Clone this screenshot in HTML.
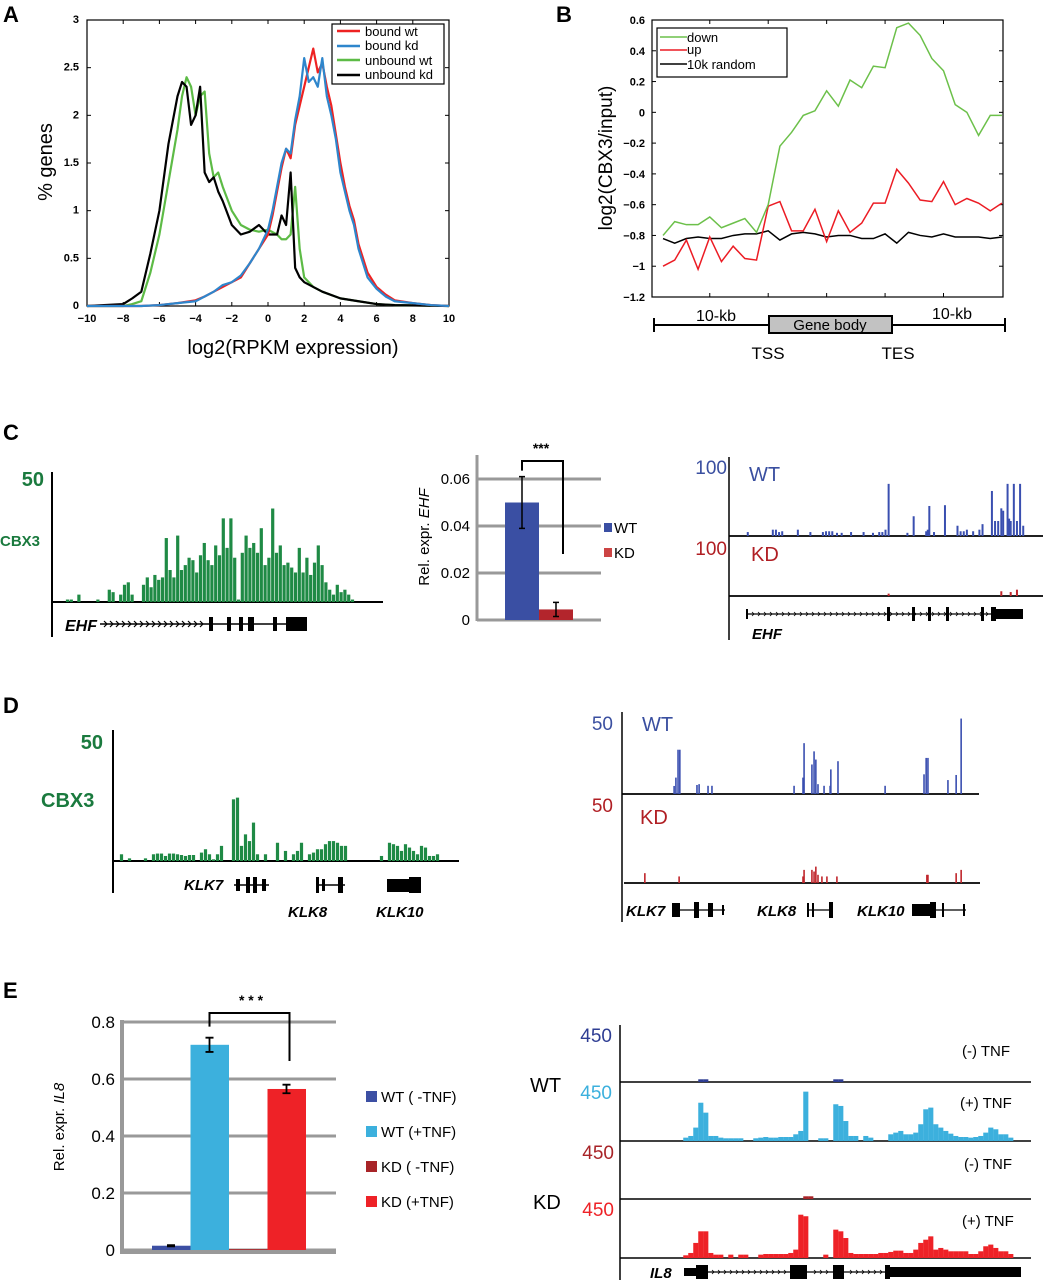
<!DOCTYPE html>
<html><head><meta charset="utf-8"><style>
html,body{margin:0;padding:0;background:#fff;}
svg{display:block;font-family:"Liberation Sans",Arial,sans-serif;}
.b{font-weight:bold}
</style></head><body>
<svg id="fig" width="1045" height="1280" viewBox="0 0 1045 1280">
<rect x="0" y="0" width="1045" height="1280" fill="#fff"/>

<!-- Panel A -->
<g id="pA">
<text x="3" y="22" font-size="22" class="b">A</text>
<rect x="87" y="20" width="362" height="286" fill="none" stroke="#000" stroke-width="1.2"/>
<text x="293" y="354" font-size="20" text-anchor="middle">log2(RPKM expression)</text>
<text transform="translate(52,162) rotate(-90)" font-size="20" text-anchor="middle">% genes</text>
<rect x="332" y="24" width="112" height="60" fill="#fff" stroke="#000" stroke-width="1.2"/>
<line x1="337" y1="31" x2="360" y2="31" stroke="#ee2222" stroke-width="2.5"/>
<text x="365" y="36" font-size="13">bound wt</text>
<line x1="337" y1="46" x2="360" y2="46" stroke="#2e86cc" stroke-width="2.5"/>
<text x="365" y="50" font-size="13">bound kd</text>
<line x1="337" y1="60" x2="360" y2="60" stroke="#5dbb46" stroke-width="2.5"/>
<text x="365" y="65" font-size="13">unbound wt</text>
<line x1="337" y1="75" x2="360" y2="75" stroke="#000" stroke-width="2.5"/>
<text x="365" y="79" font-size="13">unbound kd</text>
</g>

<!-- Panel B -->
<g id="pB">
<text x="556" y="22" font-size="22" class="b">B</text>
<rect x="652" y="20" width="351" height="277" fill="none" stroke="#000" stroke-width="1.2"/>
<text transform="translate(612,158) rotate(-90)" font-size="19" text-anchor="middle">log2(CBX3/input)</text>
<rect x="657" y="28" width="130" height="49" fill="#fff" stroke="#000" stroke-width="1.2"/>
<line x1="660" y1="37" x2="687" y2="37" stroke="#6cc04a" stroke-width="1.5"/>
<text x="687" y="42" font-size="13">down</text>
<line x1="660" y1="50" x2="687" y2="50" stroke="#ec1c24" stroke-width="1.5"/>
<text x="687" y="54" font-size="13">up</text>
<line x1="660" y1="64" x2="687" y2="64" stroke="#000" stroke-width="1.5"/>
<text x="687" y="69" font-size="13">10k random</text>
<line x1="654" y1="325" x2="1005" y2="325" stroke="#000" stroke-width="2"/>
<line x1="654" y1="318" x2="654" y2="332" stroke="#000" stroke-width="2"/>
<line x1="1005" y1="318" x2="1005" y2="332" stroke="#000" stroke-width="2"/>
<rect x="769" y="316" width="123" height="17" fill="#c2c2c2" stroke="#000" stroke-width="2"/>
<text x="830" y="330" font-size="15" text-anchor="middle">Gene body</text>
<text x="716" y="321" font-size="16" text-anchor="middle">10-kb</text>
<text x="952" y="319" font-size="16" text-anchor="middle">10-kb</text>
<text x="768" y="359" font-size="17" text-anchor="middle">TSS</text>
<text x="898" y="359" font-size="17" text-anchor="middle">TES</text>
</g>

<!-- Panel C -->
<g id="pC">
<text x="3" y="440" font-size="22" class="b">C</text>
<text x="44" y="486" font-size="20" class="b" fill="#1a7a3e" text-anchor="end">50</text>
<text x="0" y="546" font-size="15" class="b" fill="#1a7a3e">CBX3</text>
<line x1="52" y1="472" x2="52" y2="637" stroke="#000" stroke-width="2"/>
<line x1="52" y1="602" x2="383" y2="602" stroke="#000" stroke-width="2"/>
<g id="cGene">
<text x="65" y="631" font-size="16" class="b" font-style="italic">EHF</text>
<line x1="100" y1="624" x2="300" y2="624" stroke="#000" stroke-width="1.5"/>
<rect x="209" y="617" width="4" height="14" fill="#000"/>
<rect x="227" y="617" width="4" height="14" fill="#000"/>
<rect x="239" y="617" width="4" height="14" fill="#000"/>
<rect x="248" y="617" width="6" height="14" fill="#000"/>
<rect x="273" y="617" width="4" height="14" fill="#000"/>
<rect x="286" y="617" width="21" height="14" fill="#000"/>
</g>
<line x1="477" y1="455" x2="477" y2="621" stroke="#999" stroke-width="3"/>
<text transform="translate(429,537) rotate(-90)" font-size="15" text-anchor="middle">Rel. expr. <tspan font-style="italic">EHF</tspan></text>
<text x="541" y="453" font-size="14" class="b" text-anchor="middle">***</text>
<rect x="604" y="523" width="8" height="9" fill="#3a4fa3"/>
<text x="614" y="533" font-size="15">WT</text>
<rect x="604" y="548" width="8" height="9" fill="#cc4444"/>
<text x="614" y="558" font-size="15">KD</text>

<text x="727" y="474" font-size="19" fill="#3a4fa0" text-anchor="end">100</text>
<text x="749" y="481" font-size="20" fill="#3a4fa0">WT</text>
<text x="727" y="555" font-size="19" fill="#b01e23" text-anchor="end">100</text>
<text x="751" y="561" font-size="20" fill="#b01e23">KD</text>
<line x1="729" y1="457" x2="729" y2="640" stroke="#000" stroke-width="1.5"/>
<line x1="729" y1="536" x2="1043" y2="536" stroke="#000" stroke-width="1.8"/>
<line x1="729" y1="596" x2="1043" y2="596" stroke="#000" stroke-width="1.8"/>
<g>
<line x1="747" y1="614" x2="1023" y2="614" stroke="#000" stroke-width="1.2"/>
<rect x="746" y="609" width="2" height="10" fill="#000"/>
<rect x="887" y="607" width="3" height="14" fill="#000"/>
<rect x="912" y="607" width="3" height="14" fill="#000"/>
<rect x="928" y="607" width="3" height="14" fill="#000"/>
<rect x="946" y="607" width="3" height="14" fill="#000"/>
<rect x="981" y="607" width="3" height="14" fill="#000"/>
<rect x="991" y="607" width="5" height="14" fill="#000"/>
<rect x="996" y="609" width="27" height="10" fill="#000"/>
<text x="752" y="639" font-size="15" class="b" font-style="italic">EHF</text>
</g>
</g>

<!-- Panel D -->
<g id="pD">
<text x="3" y="713" font-size="22" class="b">D</text>
<text x="103" y="749" font-size="20" class="b" fill="#1a7a3e" text-anchor="end">50</text>
<text x="41" y="807" font-size="20" class="b" fill="#1a7a3e">CBX3</text>
<line x1="113" y1="730" x2="113" y2="893" stroke="#000" stroke-width="2"/>
<line x1="113" y1="861" x2="459" y2="861" stroke="#000" stroke-width="2"/>
<g>
<text x="184" y="890" font-size="15" class="b" font-style="italic">KLK7</text>
<line x1="234" y1="885" x2="269" y2="885" stroke="#000" stroke-width="1.5"/>
<rect x="236" y="879" width="4" height="12" fill="#000"/>
<rect x="246" y="877" width="4" height="16" fill="#000"/>
<rect x="253" y="877" width="4" height="16" fill="#000"/>
<rect x="262" y="879" width="4" height="12" fill="#000"/>
<text x="288" y="917" font-size="15" class="b" font-style="italic">KLK8</text>
<line x1="316" y1="885" x2="345" y2="885" stroke="#000" stroke-width="1.5"/>
<rect x="316" y="877" width="3" height="16" fill="#000"/>
<rect x="322" y="879" width="3" height="12" fill="#000"/>
<rect x="338" y="877" width="5" height="16" fill="#000"/>
<text x="376" y="917" font-size="15" class="b" font-style="italic">KLK10</text>
<rect x="387" y="879" width="22" height="13" fill="#000"/>
<rect x="409" y="877" width="12" height="16" fill="#000"/>
</g>
<text x="613" y="730" font-size="19" fill="#3a4fa0" text-anchor="end">50</text>
<text x="642" y="731" font-size="20" fill="#3a4fa0">WT</text>
<text x="613" y="812" font-size="19" fill="#b01e23" text-anchor="end">50</text>
<text x="640" y="824" font-size="20" fill="#b01e23">KD</text>
<line x1="622" y1="712" x2="622" y2="922" stroke="#000" stroke-width="1.5"/>
<line x1="622" y1="794" x2="979" y2="794" stroke="#000" stroke-width="1.8"/>
<line x1="624" y1="883" x2="980" y2="883" stroke="#000" stroke-width="1.8"/>
<g>
<text x="626" y="916" font-size="15" class="b" font-style="italic">KLK7</text>
<line x1="672" y1="910" x2="725" y2="910" stroke="#000" stroke-width="1.2"/>
<rect x="672" y="903" width="8" height="14" fill="#000"/>
<rect x="694" y="902" width="5" height="16" fill="#000"/>
<rect x="708" y="903" width="5" height="14" fill="#000"/>
<rect x="722" y="905" width="2" height="10" fill="#000"/>
<text x="757" y="916" font-size="15" class="b" font-style="italic">KLK8</text>
<line x1="807" y1="910" x2="833" y2="910" stroke="#000" stroke-width="1.2"/>
<rect x="807" y="903" width="2" height="14" fill="#000"/>
<rect x="812" y="903" width="2" height="14" fill="#000"/>
<rect x="829" y="902" width="4" height="16" fill="#000"/>
<text x="857" y="916" font-size="15" class="b" font-style="italic">KLK10</text>
<line x1="912" y1="910" x2="966" y2="910" stroke="#000" stroke-width="1.2"/>
<rect x="912" y="904" width="18" height="12" fill="#000"/>
<rect x="930" y="902" width="6" height="16" fill="#000"/>
<rect x="942" y="903" width="2" height="14" fill="#000"/>
<rect x="963" y="904" width="2" height="12" fill="#000"/>
</g>
</g>

<!-- Panel E -->
<g id="pE">
<text x="3" y="998" font-size="22" class="b">E</text>
<text transform="translate(64,1127) rotate(-90)" font-size="15" text-anchor="middle">Rel. expr. <tspan font-style="italic">IL8</tspan></text>
<text x="251" y="1005" font-size="14" class="b" text-anchor="middle">* * *</text>
<g>
<rect x="366" y="1091" width="11" height="11" fill="#3c4fa3"/>
<text x="381" y="1102" font-size="15">WT ( -TNF)</text>
<rect x="366" y="1126" width="11" height="11" fill="#3cb0dd"/>
<text x="381" y="1137" font-size="15">WT (+TNF)</text>
<rect x="366" y="1161" width="11" height="11" fill="#a82428"/>
<text x="381" y="1172" font-size="15">KD ( -TNF)</text>
<rect x="366" y="1196" width="11" height="11" fill="#ee2227"/>
<text x="381" y="1207" font-size="15">KD (+TNF)</text>
</g>
<line x1="620" y1="1025" x2="620" y2="1280" stroke="#000" stroke-width="1.5"/>
<text x="612" y="1042" font-size="19" fill="#2e3d93" text-anchor="end">450</text>
<text x="530" y="1092" font-size="20">WT</text>
<text x="612" y="1099" font-size="19" fill="#3cb0dd" text-anchor="end">450</text>
<text x="614" y="1159" font-size="19" fill="#a82428" text-anchor="end">450</text>
<text x="533" y="1209" font-size="20">KD</text>
<text x="614" y="1216" font-size="19" fill="#ee2227" text-anchor="end">450</text>
<text x="962" y="1056" font-size="15">(-) TNF</text>
<text x="960" y="1108" font-size="15">(+) TNF</text>
<text x="964" y="1169" font-size="15">(-) TNF</text>
<text x="962" y="1226" font-size="15">(+) TNF</text>
<line x1="620" y1="1082" x2="1031" y2="1082" stroke="#000" stroke-width="1.6"/>
<line x1="620" y1="1141" x2="1031" y2="1141" stroke="#000" stroke-width="1.6"/>
<line x1="620" y1="1199" x2="1031" y2="1199" stroke="#000" stroke-width="1.6"/>
<line x1="620" y1="1258" x2="1031" y2="1258" stroke="#000" stroke-width="1.6"/>
<g>
<text x="650" y="1278" font-size="15" class="b" font-style="italic">IL8</text>
<line x1="684" y1="1272" x2="1021" y2="1272" stroke="#000" stroke-width="1.2"/>
<rect x="684" y="1268" width="12" height="8" fill="#000"/>
<rect x="696" y="1265" width="12" height="14" fill="#000"/>
<rect x="790" y="1265" width="17" height="14" fill="#000"/>
<rect x="833" y="1265" width="11" height="14" fill="#000"/>
<rect x="885" y="1265" width="5" height="14" fill="#000"/>
<rect x="890" y="1267" width="131" height="10" fill="#000"/>
</g>
</g>
<g id="dyn"></g>
</svg>

<script>
// ---------- Panel A data ----------
const aBoundX = [-10,-7,-6,-5,-4,-3.5,-3,-2.5,-2,-1.5,-1,-0.5,0,0.25,0.5,0.75,1,1.25,1.5,1.75,2,2.25,2.5,2.75,3,3.25,3.5,3.75,4,4.25,4.5,4.75,5,5.5,6,6.5,7,8,9,10];
const aBoundWt = [0,0,0.01,0.03,0.06,0.1,0.15,0.2,0.25,0.3,0.45,0.6,0.75,0.95,1.2,1.45,1.65,1.55,1.9,2.1,2.3,2.5,2.7,2.45,2.55,2.3,2.1,1.8,1.5,1.25,1.05,0.9,0.65,0.35,0.2,0.12,0.06,0.03,0.01,0];
const aBoundKd = [0,0,0.01,0.03,0.05,0.1,0.15,0.22,0.25,0.32,0.45,0.6,0.8,1.0,1.25,1.5,1.65,1.6,1.95,2.2,2.6,2.35,2.4,2.3,2.6,2.2,2.0,1.75,1.4,1.2,1.0,0.85,0.6,0.3,0.18,0.1,0.05,0.03,0.01,0];
const aUnbX = [-10,-8,-7.5,-7,-6.5,-6,-5.5,-5,-4.75,-4.5,-4.25,-4,-3.75,-3.5,-3.25,-3,-2.75,-2.5,-2,-1.5,-1,-0.5,0,0.5,0.75,1,1.25,1.5,1.75,2,2.5,3,4,5,6,7,10];
const aUnbWt = [0,0,0.02,0.05,0.35,0.75,1.3,1.85,2.2,2.4,2.3,2.0,2.2,2.25,1.6,1.35,1.4,1.25,1.0,0.85,0.8,0.78,0.8,0.75,0.7,0.7,0.75,1.25,0.6,0.3,0.2,0.15,0.08,0.05,0.02,0.01,0];
const aUnbKd = [0,0.02,0.08,0.15,0.55,1.0,1.7,2.2,2.35,2.3,1.9,2.0,2.3,1.4,1.3,1.35,1.2,1.1,0.85,0.75,0.78,0.85,0.75,0.75,0.95,0.85,1.4,0.4,0.3,0.25,0.2,0.15,0.08,0.05,0.02,0.01,0];
const aXTicks = [-10,-8,-6,-4,-2,0,2,4,6,8,10];
const aYTicks = [0,0.5,1,1.5,2,2.5,3];
const aYTickLabels = ["0","0.5","1","1.5","2","2.5","3"];

// ---------- Panel B data ----------
const bDown = [-0.8,-0.71,-0.73,-0.73,-0.68,-0.75,-0.72,-0.69,-0.78,-0.6,-0.22,-0.13,-0.02,0.01,0.14,0.04,0.21,0.16,0.3,0.29,0.55,0.58,0.5,0.35,0.27,0.05,0.0,-0.15,-0.02,-0.02];
const bUp = [-1.0,-0.96,-0.83,-1.02,-0.81,-0.97,-0.87,-0.95,-0.96,-0.61,-0.58,-0.77,-0.77,-0.63,-0.84,-0.64,-0.78,-0.72,-0.59,-0.59,-0.37,-0.46,-0.57,-0.58,-0.45,-0.6,-0.56,-0.59,-0.64,-0.59];
const bRandom = [-0.82,-0.85,-0.82,-0.81,-0.82,-0.82,-0.8,-0.79,-0.79,-0.77,-0.83,-0.79,-0.78,-0.79,-0.81,-0.8,-0.8,-0.82,-0.82,-0.79,-0.85,-0.78,-0.8,-0.81,-0.79,-0.81,-0.81,-0.81,-0.82,-0.81];
const bYTicks = [-1.2,-1,-0.8,-0.6,-0.4,-0.2,0,0.2,0.4,0.6];
const bYTickLabels = ["-1.2","-1","-0.8","-0.6","-0.4","-0.2","0","0.2","0.4","0.6"];
const bXTicks = [4,9,14,19,24];

// ---------- Panel C data ----------
const cCbx3 = [1,1,0,3,0,0,0,0,1,0,0,5,4,0,3,7,8,3,0,0,7,10,6,11,9,10,26,13,10,27,13,15,18,17,12,19,24,17,15,23,19,34,22,34,18,1,20,27,22,24,20,30,15,18,38,20,23,15,16,14,12,22,12,18,11,16,23,15,8,5,3,7,4,5,3,1];
const cBarCats = ["WT","KD"];
const cBarVals = [0.05,0.0045];
const cBarErr = [0.011,0.003];
const cYTicks = [0,0.02,0.04,0.06];
const cYTickLabels = ["0","0.02","0.04","0.06"];
const cWtPos = [6,14,15,16,17,22,26,30,31,32,33,34.5,36,39,43,46,48,49,50,51,57,59,63,63.5,64,65.5,69,73,74,75,76,78,80,81,84,85,86,87,87.6,89,89.5,90,91,92,93,94];
const cWtVal = [5,8,8,5,6,8,5,5,6,6,6,4,4,5,5,4,5,5,8,66,4,25,6,8,38,5,39,13,6,6,8,6,8,15,57,19,19,35,32,66,22,19,66,19,66,13];
const cKdPos = [51,87,90,92];
const cKdVal = [3,6,5,8];

// ---------- Panel D data ----------
const dCbx3 = [2.8,0,1.1,0,0,0,1.1,0,2.8,3.1,3.1,2.1,3.1,3.1,2.8,2.5,2.1,2.5,2.5,0,3.5,4.9,2.8,0.7,2.8,6.3,0,0,25.7,26.4,6.3,11.1,8.3,16,2.8,0,2.8,0,0,7.6,0,4.2,0,2.8,4.2,7.6,0,2.8,3.5,4.9,4.9,7,8.3,8.3,7.6,6.3,6.3,0,0,0,0,0,0,0,0,2.1,0,7.6,7,6.3,4.2,7,5.6,4.2,2.8,6.3,5.6,2.1,2.1,2.8];
const dWtPos = [14.6,15.1,15.7,16.2,21,21.6,24.1,25.2,48.2,50.7,51,53.2,53.8,54.3,54.9,56.6,58.3,58.5,60.5,73.7,84.6,85.2,85.7,91.3,93.6,95];
const dWtVal = [4.9,10,27,27,5.5,6,5,5,5,10,31,18,26,21,6,5,5,15,20,5,12,22,22,8.5,11.6,46];
const dKdPos = [6.4,16,50.7,51,53.2,53.8,54.3,54.9,56,57.4,60.2,85.4,85.7,93.6,95];
const dKdVal = [6,4,4,8,8,7,10,5,4,4,4,5,5,6,8];

// ---------- Panel E data ----------
const eCats = ["WT (-TNF)","WT (+TNF)","KD (-TNF)","KD (+TNF)"];
const eVals = [0.015,0.72,0.003,0.565];
const eErr = [0.002,0.025,0,0.015];
const eYTicks = [0,0.2,0.4,0.6,0.8];
const eYTickLabels = ["0","0.2","0.4","0.6","0.8"];
const eWtPlus = [26,39,104,297,220,39,39,26,21,21,21,21,0,0,21,26,31,26,26,31,31,31,52,78,383,0,0,21,21,0,285,272,155,39,39,0,39,26,0,0,0,52,65,78,52,52,65,130,246,259,130,104,78,57,39,31,31,26,31,39,65,104,91,52,52,26];
const eKdPlus = [21,39,117,207,207,39,26,26,0,26,0,26,26,0,0,26,31,31,31,31,31,39,65,336,324,0,0,0,26,0,220,207,155,39,31,31,31,31,31,39,39,47,57,57,39,39,65,117,142,168,65,78,65,52,52,52,52,31,31,52,91,104,78,52,52,31];
const eWtMinusPos = [3,4,30,31];
const eWtMinusVal = [21,21,21,21];
const eKdMinusPos = [24,25];
const eKdMinusVal = [21,21];

const NS = "http://www.w3.org/2000/svg";
const root = document.getElementById('dyn');
function mk(tag, attrs, parent) {
  const e = document.createElementNS(NS, tag);
  for (const k in attrs) e.setAttribute(k, attrs[k]);
  (parent || root).appendChild(e);
  return e;
}
function lin(d0, d1, r0, r1) { return v => r0 + (v - d0) / (d1 - d0) * (r1 - r0); }

// ===== Panel A =====
const ax = lin(-10, 10, 87, 449), ay = lin(0, 3, 306, 20);
aXTicks.forEach(t => {
  const x = ax(t);
  let l = mk('line', {x1:x, y1:306, x2:x, y2:302, stroke:'#000', 'stroke-width':1});
  
  
  l = mk('line', {x1:x, y1:20, x2:x, y2:24, stroke:'#000', 'stroke-width':1});
  
  
  const tx = mk('text', {x:x, y:322, 'font-size':11, 'font-weight':'bold', 'text-anchor':'middle'});
  tx.textContent = String(t).replace('-', '\u2212');
  
  
});
aYTicks.forEach((t, i) => {
  const y = ay(t);
  let l = mk('line', {x1:87, y1:y, x2:91, y2:y, stroke:'#000', 'stroke-width':1});
  
  
  l = mk('line', {x1:449, y1:y, x2:445, y2:y, stroke:'#000', 'stroke-width':1});
  
  
  const tx = mk('text', {x:79, y:y+3, 'font-size':11, 'font-weight':'bold', 'text-anchor':'end'});
  tx.textContent = aYTickLabels[i];
  
  
});
function aLine(xs, ys, color) {
  return mk('polyline', {points: xs.map((x, i) => ax(x) + ',' + ay(ys[i])).join(' '), fill:'none', stroke:color, 'stroke-width':2.2, 'stroke-linejoin':'round'});
}
let s;
s = aLine(aUnbX, aUnbWt, '#5dbb46');


s = aLine(aUnbX, aUnbKd, '#000');


s = aLine(aBoundX, aBoundWt, '#ee2222');


s = aLine(aBoundX, aBoundKd, '#2e86cc');



// ===== Panel B =====
const bx = lin(-0.943, 29.09, 652, 1003), by = lin(-1.2, 0.6, 297, 20);
bXTicks.forEach(t => {
  const x = bx(t);
  let l = mk('line', {x1:x, y1:297, x2:x, y2:293, stroke:'#000', 'stroke-width':1});
  
  
  l = mk('line', {x1:x, y1:20, x2:x, y2:24, stroke:'#000', 'stroke-width':1});
  
  
});
bYTicks.forEach((t, i) => {
  const y = by(t);
  let l = mk('line', {x1:652, y1:y, x2:656, y2:y, stroke:'#000', 'stroke-width':1});
  
  
  l = mk('line', {x1:1003, y1:y, x2:999, y2:y, stroke:'#000', 'stroke-width':1});
  
  
  const tx = mk('text', {x:645, y:y+4, 'font-size':11, 'font-weight':'bold', 'text-anchor':'end'});
  tx.textContent = bYTickLabels[i].replace('-', '\u2212');
  
  
});
function bLine(ys, color) {
  return mk('polyline', {points: ys.map((v, i) => bx(i) + ',' + by(v)).join(' '), fill:'none', stroke:color, 'stroke-width':1.5});
}
s = bLine(bRandom, '#000');


s = bLine(bUp, '#ec1c24');


s = bLine(bDown, '#6cc04a');



// ===== Track helper =====
function track(pos, vals, xs, base, pxPerUnit, w, color, name) {
  pos.forEach((p, i) => {
    const h = vals[i] * pxPerUnit;
    if (h <= 0) return;
    const r = mk('rect', {x: xs(p) - w/2, y: base - h, width: w, height: h, fill: color});
    
    
  });
}
const idx = a => a.map((_, i) => i);

// ===== Panel C =====
track(idx(cCbx3), cCbx3, lin(0, 1, 67.5, 71.3), 602, 123/50, 3.2, '#1f8a45', 'cbx3-ehf-bar');
// chevrons on EHF intron
for (let k = 0; k < 19; k++) {
  const x = 104 + k * 6;
  if (x > 205) break;
  const c = mk('polyline', {points:(x)+',621 '+(x+3)+',624 '+(x)+',627', fill:'none', stroke:'#000', 'stroke-width':1.2});
  
  
}
const cy = lin(0, 0.06, 620, 479);
cYTicks.forEach((t, i) => {
  const y = cy(t);
  const g = mk('line', {x1:477, y1:y, x2:601, y2:y, stroke:'#999', 'stroke-width':3});
  
  
  const tx = mk('text', {x:470, y:y+5, 'font-size':15, 'text-anchor':'end'});
  tx.textContent = cYTickLabels[i];
  
  
});
const cBarColors = ['#3a4fa3', '#b3252c'];
const cBarX = lin(0, 1, 505, 539);
cBarCats.forEach((c, i) => {
  const x = cBarX(i), top = cy(cBarVals[i]);
  const r = mk('rect', {x:x, y:top, width:34, height:620 - top, fill:cBarColors[i]});
  
  
  const cx = x + 17, y1 = cy(cBarVals[i] + cBarErr[i]), y2 = cy(cBarVals[i] - cBarErr[i]);
  const e = mk('path', {d:`M${cx},${y1}V${y2}M${cx-3},${y1}H${cx+3}M${cx-3},${y2}H${cx+3}`, stroke:'#000', 'stroke-width':1.5, fill:'none'});
  
  
});
const cBr = mk('path', {d:`M${cBarX(0)+17},${cy(cBarVals[0]+cBarErr[0])-6}V461H${cBarX(1)+24}V554`, stroke:'#000', 'stroke-width':2, fill:'none'});


const cTx = lin(0, 100, 729, 1042);
track(cWtPos, cWtVal, cTx, 536, 79/100, 2, '#3a4fb0', 'ehf-wt-signal-bar');
track(cKdPos, cKdVal, cTx, 596, 79/100, 2, '#c0262c', 'ehf-kd-signal-bar');
for (let k = 0; k < 46; k++) {
  const x = 752 + k * 6;
  if (x > 1010) break;
  const c = mk('polyline', {points:(x)+',612 '+(x+2)+',614 '+(x)+',616', fill:'none', stroke:'#000', 'stroke-width':0.8});
  
  
}

// ===== Panel D =====
track(idx(dCbx3), dCbx3, lin(0, 1, 121.5, 125.5), 861, 120/50, 3.2, '#1f8a45', 'cbx3-klk-bar');
const dTx = lin(0, 100, 622, 979);
track(dWtPos, dWtVal, dTx, 794, 82/50, 1.6, '#3a4fb0', 'klk-wt-signal-bar');
track(dKdPos, dKdVal, dTx, 883, 82/50, 1.6, '#c0262c', 'klk-kd-signal-bar');

// ===== Panel E =====
const ey = lin(0, 0.8, 1250, 1022);
eYTicks.forEach((t, i) => {
  const y = ey(t);
  const g = mk('line', {x1:122, y1:y, x2:336, y2:y, stroke:'#999', 'stroke-width':3});
  
  
  const tx = mk('text', {x:115, y:y+6, 'font-size':17, 'text-anchor':'end'});
  tx.textContent = eYTickLabels[i];
  
  
});
const eAxis = mk('path', {d:'M122,1020V1252H336', stroke:'#999', 'stroke-width':4, fill:'none'});


const eColors = ['#3c4fa3', '#3cb0dd', '#a82428', '#ee2227'];
const eBx = lin(0, 1, 152, 190.5);
eCats.forEach((c, i) => {
  const x = eBx(i), top = ey(eVals[i]);
  const r = mk('rect', {x:x, y:top, width:38.5, height:1250 - top, fill:eColors[i]});
  
  
  if (eErr[i] > 0) {
    const cx = x + 19, y1 = ey(eVals[i] + eErr[i]), y2 = ey(eVals[i] - eErr[i]);
    const e = mk('path', {d:`M${cx},${y1}V${y2}M${cx-4},${y1}H${cx+4}M${cx-4},${y2}H${cx+4}`, stroke:'#000', 'stroke-width':1.8, fill:'none'});
    
    
  }
});
const eBr = mk('path', {d:`M${eBx(1)+19},${ey(eVals[1]+eErr[1])-11}V1013H${eBx(3)+22}V1061`, stroke:'#000', 'stroke-width':2, fill:'none'});


const eTx = lin(0, 1, 685.8, 690.8);
track(idx(eWtPlus), eWtPlus, eTx, 1141, 58/450, 5.1, '#3cb0dd', 'il8-wt-plus-signal');
track(idx(eKdPlus), eKdPlus, eTx, 1258, 58/450, 5.1, '#ee2227', 'il8-kd-plus-signal');
track(eWtMinusPos, eWtMinusVal, eTx, 1082, 58/450, 5.1, '#2e3d93', 'il8-wt-minus-signal');
track(eKdMinusPos, eKdMinusVal, eTx, 1199, 58/450, 5.1, '#a82428', 'il8-kd-minus-signal');
for (let k = 0; k < 40; k++) {
  const x = 712 + k * 6;
  if (x > 880) break;
  if ((x > 786 && x < 810) || (x > 829 && x < 846)) continue;
  const c = mk('polyline', {points:(x)+',1270 '+(x+2)+',1272 '+(x)+',1274', fill:'none', stroke:'#000', 'stroke-width':0.8});
  
  
}
</script>
</body></html>
